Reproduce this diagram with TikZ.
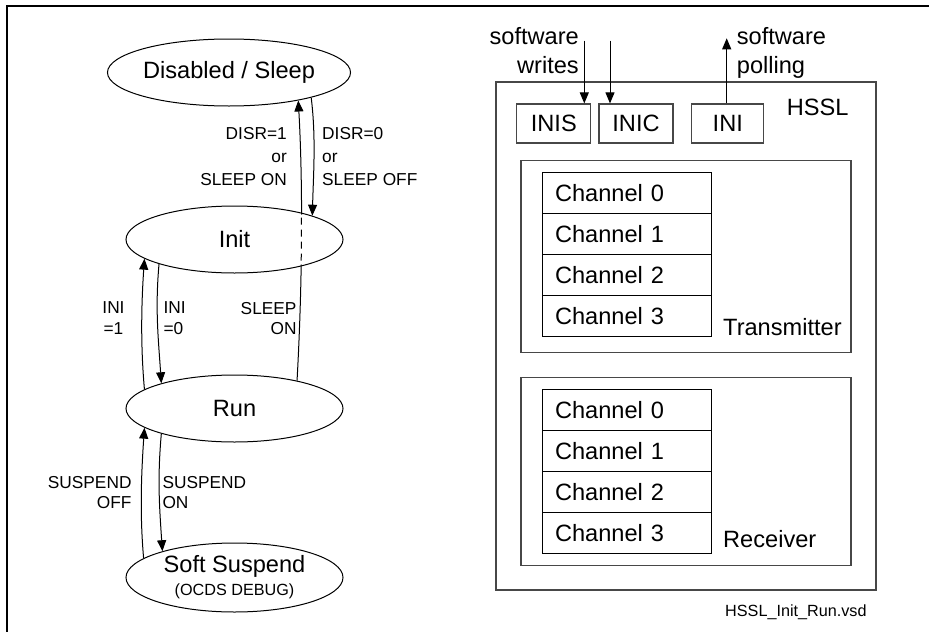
\documentclass[tikz,border=0pt]{standalone}
\usepackage{fontspec}
\setmainfont{Liberation Sans}
\usetikzlibrary{shapes.geometric,arrows.meta,calc}
\newcommand\BigF{\fontsize{23.6}{28}\selectfont}
\newcommand\SmallF{\fontsize{16.2}{20}\selectfont}
\begin{document}
\begin{tikzpicture}[x=1pt,y=-1pt,
  state/.style={ellipse,draw,line width=1pt,inner sep=0pt,font=\BigF,align=center},
  arr/.style={-{Triangle[length=11pt,width=9pt]},line width=1pt},
  lblA/.style={font=\fontsize{17.3}{23.3}\selectfont,inner sep=0pt},
  lblB/.style={font=\fontsize{17.3}{20.5}\selectfont,inner sep=0pt},
  box/.style={draw=black!72,line width=1.2pt,inner sep=0pt},
  chan/.style={draw=black,line width=1pt,minimum height=41pt,text width=143pt,inner xsep=13pt,inner ysep=0pt,align=left,font=\BigF},
  big/.style={font=\BigF,inner sep=0pt}
]
\useasboundingbox (0,0) rectangle (929,632);
% frame
\draw[line width=1.5pt] (929,6) -- (7,6) -- (7,632);

% ---------- state diagram ----------
\node[state,minimum width=228pt,minimum height=67pt] (dis) at (229,72.5) {Disabled / Sleep};
\node[state,minimum width=217pt,minimum height=67pt] (init) at (234.5,239.5) {Init};
\node[state,minimum width=217pt,minimum height=67pt] (run) at (234.5,408.5) {Run};
\node[state,minimum width=217pt,minimum height=69pt] (soft) at (234.5,577.5) {Soft Suspend\\[-5pt]{\SmallF (OCDS DEBUG)}};

% Run -> Disabled (sleep on), dashed through Init
\draw[arr] (run.24) .. controls +(5,-90) and +(5,90) .. (dis.-22);
\begin{scope}
  \clip (init.center) ellipse [x radius=107, y radius=32];
  \draw[white,line width=3pt] (run.24) .. controls +(5,-90) and +(5,90) .. (dis.-22);
  \draw[line width=1pt,dash pattern=on 7pt off 5pt] (run.24) .. controls +(5,-90) and +(5,90) .. (dis.-22);
\end{scope}
% Disabled -> Init
\draw[arr] (dis.-17) .. controls +(5,40) and +(1,-40) .. (init.17);
% Run -> Init (INI=1)
\draw[arr] (run.168) .. controls +(-4,-45) and +(-3,45) .. (init.192);
% Init -> Run (INI=0)
\draw[arr] (init.198) .. controls +(-4,45) and +(-3,-45) .. (run.161);
% Soft -> Run (SUSPEND OFF)
\draw[arr] (soft.168) .. controls +(-4,-45) and +(-3,45) .. (run.192);
% Run -> Soft (SUSPEND ON)
\draw[arr] (run.199) .. controls +(-4,45) and +(-3,-45) .. (soft.160);

% labels
\node[lblA,align=right,anchor=north east] (l1) at (287,127) {DISR=1\\or\\SLEEP ON};
\node[lblA,align=left,anchor=north west] (l2) at (322,127) {DISR=0\\or\\SLEEP OFF};
\node[lblB,align=center,anchor=north] (l3) at (113.5,301.8) {INI\\=1};
\node[lblB,align=left,anchor=north west] (l4) at (163.3,301.8) {INI\\=0};
\node[lblB,align=right,anchor=north east] (l5) at (296.7,301.8) {SLEEP\\ON};
\node[lblB,align=right,anchor=north east] (l6) at (131.7,476) {SUSPEND\\OFF};
\node[lblB,align=left,anchor=north west] (l7) at (162.3,476) {SUSPEND\\ON};

% ---------- HSSL block ----------
\node[box,minimum width=380pt,minimum height=508pt] (hssl) at (686,336) {};
\node[big,anchor=base west] (hsslt) at (786.7,115) {HSSL};
\node[box,minimum width=74pt,minimum height=39pt,font=\BigF] (inis) at (553.8,123.5) {INIS};
\node[box,minimum width=74pt,minimum height=39pt,font=\BigF] (inic) at (636,123.5) {INIC};
\node[box,minimum width=72pt,minimum height=39pt,font=\BigF] (ini) at (727.8,123.5) {INI};

\node[box,minimum width=330pt,minimum height=192pt] (tx) at (686,256.7) {};
\node[chan] (t0) at (626.5,193.2) {Channel 0};
\node[chan] (t1) at (626.5,234.2) {Channel 1};
\node[chan] (t2) at (626.5,275.2) {Channel 2};
\node[chan] (t3) at (626.5,315.8) {Channel 3};
\node[big,anchor=base west] (txt) at (723,335) {Transmitter};

\node[box,minimum width=330pt,minimum height=188pt] (rx) at (686,471.7) {};
\node[chan] (r0) at (626.5,410.2) {Channel 0};
\node[chan] (r1) at (626.5,451.2) {Channel 1};
\node[chan] (r2) at (626.5,492.2) {Channel 2};
\node[chan] (r3) at (626.5,532.7) {Channel 3};
\node[big,anchor=base west] (rxt) at (723,547.3) {Receiver};

\node[font=\SmallF,inner sep=0pt,anchor=base west] (fname) at (725,616.7) {HSSL\_Init\_Run.vsd};

% software arrows
\node[font=\fontsize{23.6}{29.3}\selectfont,inner sep=0pt,align=right,anchor=north east] (sw) at (579,26.8) {software\\writes};
\node[font=\fontsize{23.6}{29.3}\selectfont,inner sep=0pt,align=left,anchor=north west] (sp) at (736.7,26.8) {software\\polling};
\coordinate (w1) at (584.3,40.7);
\coordinate (w2) at (610,40.7);
\coordinate (p1) at (726.7,38.3);
\draw[arr] (w1) -- (w1 |- inis.north);
\draw[arr] (w2) -- (w2 |- inic.north);
\draw[arr] (p1 |- ini.north) -- (p1);
\end{tikzpicture}
\end{document}
